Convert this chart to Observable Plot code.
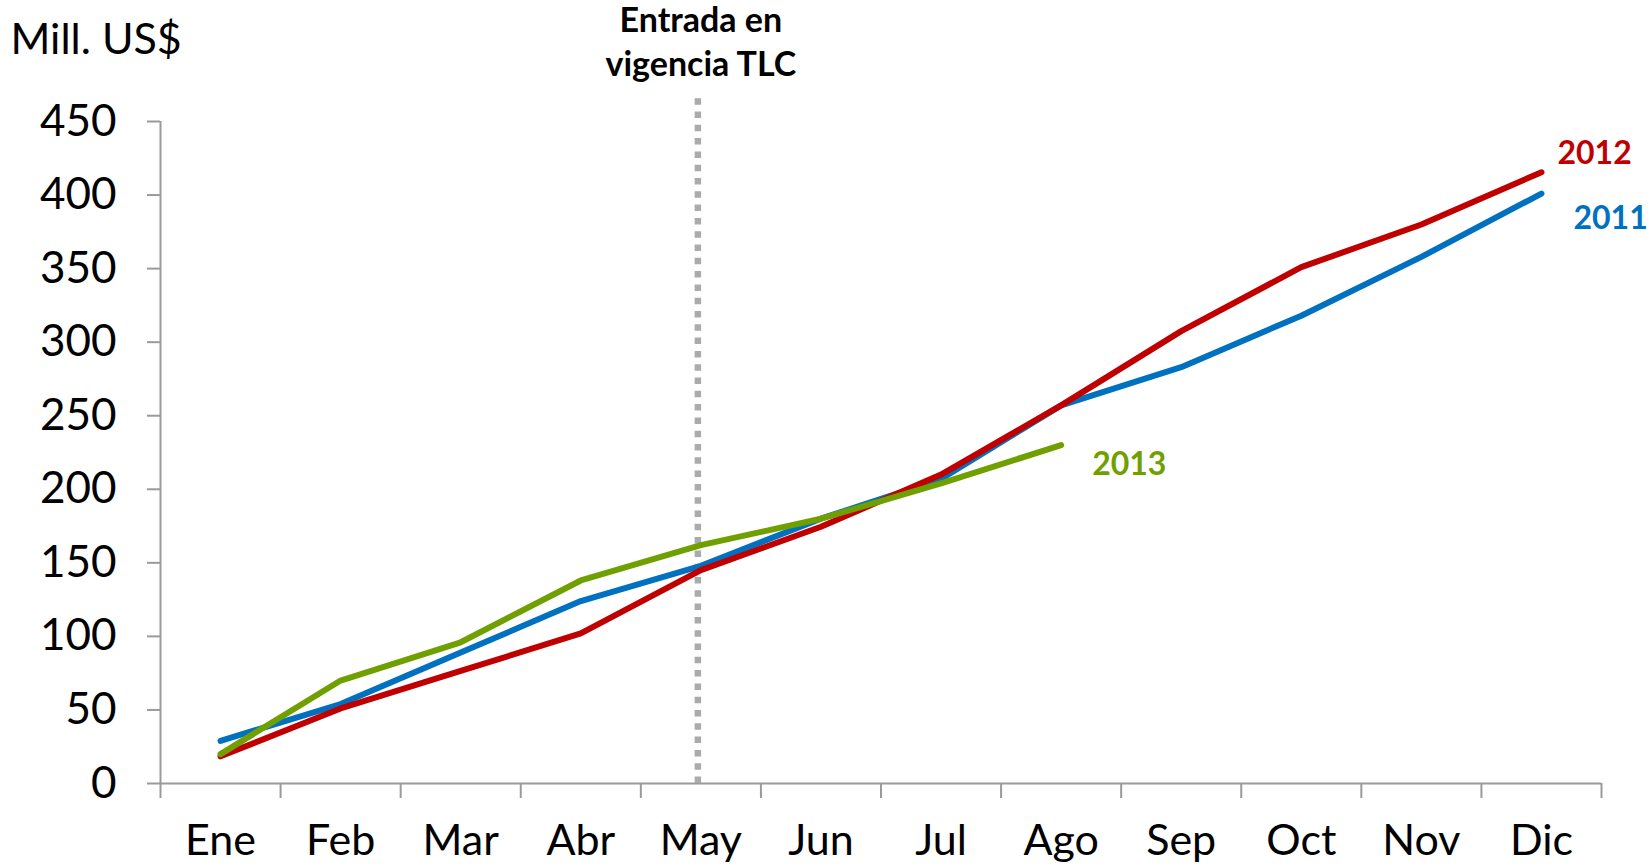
<!DOCTYPE html>
<html><head><meta charset="utf-8">
<script src="https://cdn.jsdelivr.net/npm/d3@7"></script>
<script src="https://cdn.jsdelivr.net/npm/@observablehq/plot@0.6"></script>
<style>html,body{margin:0;padding:0;background:#fff} svg{display:block}</style>
</head><body><div id="chart"></div>
<script>
const months = ["Ene","Feb","Mar","Abr","May","Jun","Jul","Ago","Sep","Oct","Nov","Dic"];
const v2011 = [29, 54, 89, 124, 148, 180, 207, 257, 283, 318, 358, 401];
const v2012 = [18.5, 51, 76.5, 102, 145, 174.5, 210, 257, 307.5, 351, 380, 415.5];
const v2013 = [20, 70, 96, 138, 162, 180, 204, 230];
const yTicks = [0, 50, 100, 150, 200, 250, 300, 350, 400, 450];
const seriesNames = ["2011", "2012", "2013"];
const seriesColors = ["#0070C0", "#C00000", "#70A000"];
const eventMonth = "May";
const eventLabel = "Entrada en\nvigencia TLC";
const unitLabel = "Mill. US$";

const allSeries = [v2011, v2012, v2013];
const data = [];
allSeries.forEach((vals, s) => vals.forEach((v, i) => data.push({serie: seriesNames[s], i, v})));
const lastPoints = allSeries.map((vals, s) => ({serie: seriesNames[s], i: vals.length - 1, v: vals[vals.length - 1]}));
const labelOffsets = {"2011": [32, 25], "2012": [16, -19], "2013": [31, 20]};
const eventIndex = months.indexOf(eventMonth);
const boundaries = d3.range(months.length + 1).map(k => k - 0.5);

const axisColor = "#9A9A9A";
const font = "Lato, 'Open Sans', sans-serif";

const chart = Plot.plot({
  width: 1650,
  height: 866,
  marginLeft: 160,
  marginRight: 49,
  marginTop: 121,
  marginBottom: 83,
  style: {fontFamily: font, background: "#fff", color: "#000", overflow: "visible"},
  x: {type: "linear", domain: [-0.5, months.length - 0.5]},
  y: {domain: [0, 450]},
  color: {domain: seriesNames, range: seriesColors},
  marks: [
    Plot.axisY({ticks: yTicks, tickSize: 13, tickPadding: 31, fontSize: 44, stroke: axisColor, strokeWidth: 2, fill: "#000", label: null}),
    Plot.axisX({ticks: boundaries, tickSize: 15, tickFormat: () => "", stroke: axisColor, strokeWidth: 2, label: null}),
    Plot.axisX({ticks: d3.range(months.length), tickSize: 0, tickPadding: 41, fontSize: 43, fill: "#000", tickFormat: i => months[i], label: null}),
    Plot.ruleY([0], {stroke: axisColor, strokeWidth: 2}),
    Plot.ruleX([-0.5], {y1: 0, y2: 450, stroke: axisColor, strokeWidth: 2}),
    Plot.ruleX([eventIndex], {y1: 0, y2: 466, dx: -3, stroke: "#ABABAB", strokeWidth: 6.5, strokeDasharray: "6.5,6.8", clip: false}),
    Plot.line(data, {x: "i", y: "v", z: "serie", stroke: "serie", strokeWidth: 6, strokeLinecap: "round", strokeLinejoin: "round"}),
    ...lastPoints.map((p, s) => Plot.text([p], {
      x: "i", y: "v", text: "serie", fill: seriesColors[s], fontWeight: "bold", fontSize: 32,
      textAnchor: "start", dx: labelOffsets[p.serie][0], dy: labelOffsets[p.serie][1], clip: false
    })),
    Plot.text([eventLabel], {x: eventIndex, frameAnchor: "top", text: d => d, fontWeight: "bold", fontSize: 34, lineHeight: 1.3, lineAnchor: "middle", dy: -82, fill: "#000"}),
    Plot.text([unitLabel], {frameAnchor: "top-left", text: d => d, fontSize: 43, textAnchor: "start", dx: -150, dy: -98, fill: "#000"})
  ]
});
document.getElementById("chart").appendChild(chart);
</script>
</body></html>
